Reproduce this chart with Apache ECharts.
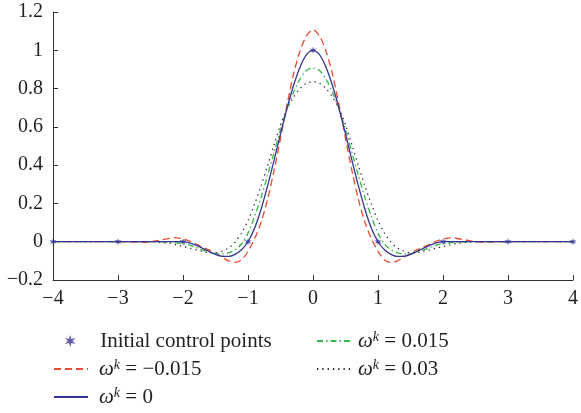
<!DOCTYPE html>
<html><head><meta charset="utf-8">
<script src="https://cdn.jsdelivr.net/npm/echarts@6/dist/echarts.min.js"></script>
<style>html,body{margin:0;padding:0;background:#fff}#c{width:581px;height:413px}</style>
</head><body><div id="c"></div>
<script>
// x positions shared by all curves
const X = [-4,-3,-2.6,-2.4,-2.2,-2.1,-2,-1.9,-1.8,-1.7,-1.6,-1.5,-1.4,-1.3,-1.2,-1.1,-1,-0.9,-0.8,-0.7,-0.6,-0.5,-0.4,-0.3,-0.2,-0.1,
  0,0.1,0.2,0.3,0.4,0.5,0.6,0.7,0.8,0.9,1,1.1,1.2,1.3,1.4,1.5,1.6,1.7,1.8,1.9,2,2.1,2.2,2.4,2.6,3,4];
// omega^k = -0.015 (red dashed)
const Y_RED = [0,0,-0.003,0.006,0.018,0.02,0.014,0.003,-0.013,-0.028,-0.043,-0.06,-0.08,-0.1,-0.108,-0.095,-0.05,0.015,0.1,0.22,0.37,0.54,0.715,0.875,0.995,1.075,
  1.107,1.075,0.995,0.875,0.715,0.54,0.37,0.22,0.1,0.015,-0.05,-0.095,-0.108,-0.1,-0.08,-0.06,-0.043,-0.028,-0.013,0.003,0.014,0.02,0.018,0.006,-0.003,0,0];
// omega^k = 0 (blue solid)
const Y_BLUE = [0,0,0,0,0,0,0,-0.006,-0.018,-0.034,-0.051,-0.066,-0.076,-0.077,-0.066,-0.042,0,0.069,0.168,0.29,0.424,0.563,0.696,0.816,0.912,0.977,
  1,0.977,0.912,0.816,0.696,0.563,0.424,0.29,0.168,0.069,0,-0.042,-0.066,-0.077,-0.076,-0.066,-0.051,-0.034,-0.018,-0.006,0,0,0,0,0,0,0];
// omega^k = 0.015 (green dash-dot)
const Y_GREEN = [0,0,0,0,-0.003,-0.006,-0.01,-0.018,-0.03,-0.043,-0.054,-0.062,-0.064,-0.058,-0.042,-0.012,0.045,0.13,0.23,0.345,0.465,0.585,0.695,0.78,0.85,0.895,
  0.907,0.895,0.85,0.78,0.695,0.585,0.465,0.345,0.23,0.13,0.045,-0.012,-0.042,-0.058,-0.064,-0.062,-0.054,-0.043,-0.03,-0.018,-0.01,-0.006,-0.003,0,0,0,0];
// omega^k = 0.03 (black dotted)
const Y_BLACK = [0,0,0,-0.002,-0.009,-0.017,-0.025,-0.033,-0.042,-0.05,-0.057,-0.058,-0.05,-0.033,-0.003,0.045,0.11,0.195,0.29,0.395,0.505,0.61,0.695,0.755,0.8,0.828,
  0.837,0.828,0.8,0.755,0.695,0.61,0.505,0.395,0.29,0.195,0.11,0.045,-0.003,-0.033,-0.05,-0.058,-0.057,-0.05,-0.042,-0.033,-0.025,-0.017,-0.009,-0.002,0,0,0];
// initial control points
const CP_X = [-4,-3,-2,-1,0,1,2,3,4];
const CP_Y = [0,0,0,0,1,0,0,0,0];
// tick labels
const X_TICKS = {'-4':'−4','-3':'−3','-2':'−2','-1':'−1','0':'0','1':'1','2':'2','3':'3','4':'4'};
const Y_TICKS = {'-0.2':'−0.2','0':'0','0.2':'0.2','0.4':'0.4','0.6':'0.6','0.8':'0.8','1':'1','1.2':'1.2'};
const NAMES = ['Initial control points','ωk = −0.015','ωk = 0','ωk = 0.015','ωk = 0.03'];
const LEGEND_TEXT = {
  'Initial control points':'Initial control points',
  'ωk = −0.015':'{w|ω}{s|k}{t| = −0.015}',
  'ωk = 0':'{w|ω}{s|k}{t| = 0}',
  'ωk = 0.015':'{w|ω}{s|k}{t| = 0.015}',
  'ωk = 0.03':'{w|ω}{s|k}{t| = 0.03}'
};

const FONT = "'Liberation Serif','DejaVu Serif',serif";
const TXT = '#231f20';
const pair = (xs, ys) => xs.map((x,i)=>[x, ys[i]]);
// asterisk-like star symbol
let p = '';
for (let i=0;i<12;i++){const a=i*Math.PI/6 - Math.PI/2; const r=(i%2)?0.4:1; p += (i?'L':'M')+(r*Math.cos(a)).toFixed(3)+' '+(r*Math.sin(a)).toFixed(3)+' ';}
const STAR = 'path://'+p+'Z';

const BLUE='#363696', RED='#ee4a2e', GREEN='#36b54a', BLACK='#2a2a2a';
const chart = echarts.init(document.getElementById('c'), null, {renderer:'canvas'});
const legendText = (pad) => ({fontFamily:FONT, fontSize:21, color:TXT, lineHeight:22, padding:[0,0,0,pad],
  rich:{w:{fontFamily:FONT,fontSize:21,fontStyle:'italic',color:TXT,lineHeight:22},
        s:{fontFamily:FONT,fontSize:14,fontStyle:'italic',color:TXT,verticalAlign:'top',lineHeight:12},
        t:{fontFamily:FONT,fontSize:21,color:TXT,lineHeight:22}}});
function leg(name, left, top, pad, isLine){
  return {data:[name], orient:'vertical', left:left, top:top, padding:0, itemWidth:34, itemHeight:12, itemGap:0,
    formatter:n=>LEGEND_TEXT[n], textStyle:legendText(pad), selectedMode:false,
    itemStyle: isLine ? {opacity:0} : {}};
}
chart.setOption({
  animation:false,
  grid:{left:53,right:4,top:12,bottom:133},
  xAxis:{type:'value',min:-4,max:4,interval:1,
    axisLine:{onZero:false,lineStyle:{color:'#333',width:1}},
    axisTick:{inside:true,length:5,lineStyle:{color:'#333'}},
    splitLine:{show:false},
    axisLabel:{fontFamily:FONT,fontSize:20,color:TXT,margin:9,formatter:v=>X_TICKS[String(v)]??String(v)}},
  yAxis:{type:'value',min:-0.2,max:1.2,interval:0.2,
    axisLine:{show:true,onZero:false,lineStyle:{color:'#333',width:1}},
    axisTick:{show:true,inside:true,length:5,lineStyle:{color:'#333'}},
    splitLine:{show:false},
    axisLabel:{fontFamily:FONT,fontSize:20,color:TXT,margin:10,formatter:v=>Y_TICKS[String(+v.toFixed(1))]??String(v)}},
  legend:[
    leg(NAMES[0], 65, 330, 8, false),
    leg(NAMES[1], 53, 358, 6, true),
    leg(NAMES[2], 53, 386, 6, true),
    leg(NAMES[3], 316, 330, 2, true),
    leg(NAMES[4], 316, 358, 2, true)
  ],
  series:[
    {name:NAMES[1],type:'line',data:pair(X,Y_RED),showSymbol:false,symbol:'none',smooth:0.3,z:3,
     lineStyle:{color:RED,width:1.3,type:[7,4]},itemStyle:{color:'rgba(0,0,0,0)'}},
    {name:NAMES[2],type:'line',data:pair(X,Y_BLUE),showSymbol:false,symbol:'none',smooth:0.3,z:4,
     lineStyle:{color:BLUE,width:1.3,type:'solid'},itemStyle:{color:'rgba(0,0,0,0)'}},
    {name:NAMES[3],type:'line',data:pair(X,Y_GREEN),showSymbol:false,symbol:'none',smooth:0.3,z:3,
     lineStyle:{color:GREEN,width:1.3,type:[6,3,1.5,3]},itemStyle:{color:'rgba(0,0,0,0)'}},
    {name:NAMES[4],type:'line',data:pair(X,Y_BLACK),showSymbol:false,symbol:'none',smooth:0.3,z:2,
     lineStyle:{color:BLACK,width:1.3,type:[1.3,4]},itemStyle:{color:'rgba(0,0,0,0)'}},
    {name:NAMES[0],type:'scatter',data:pair(CP_X,CP_Y),symbol:STAR,symbolSize:7,z:5,
     itemStyle:{color:BLUE}}
  ]
});
</script></body></html>
